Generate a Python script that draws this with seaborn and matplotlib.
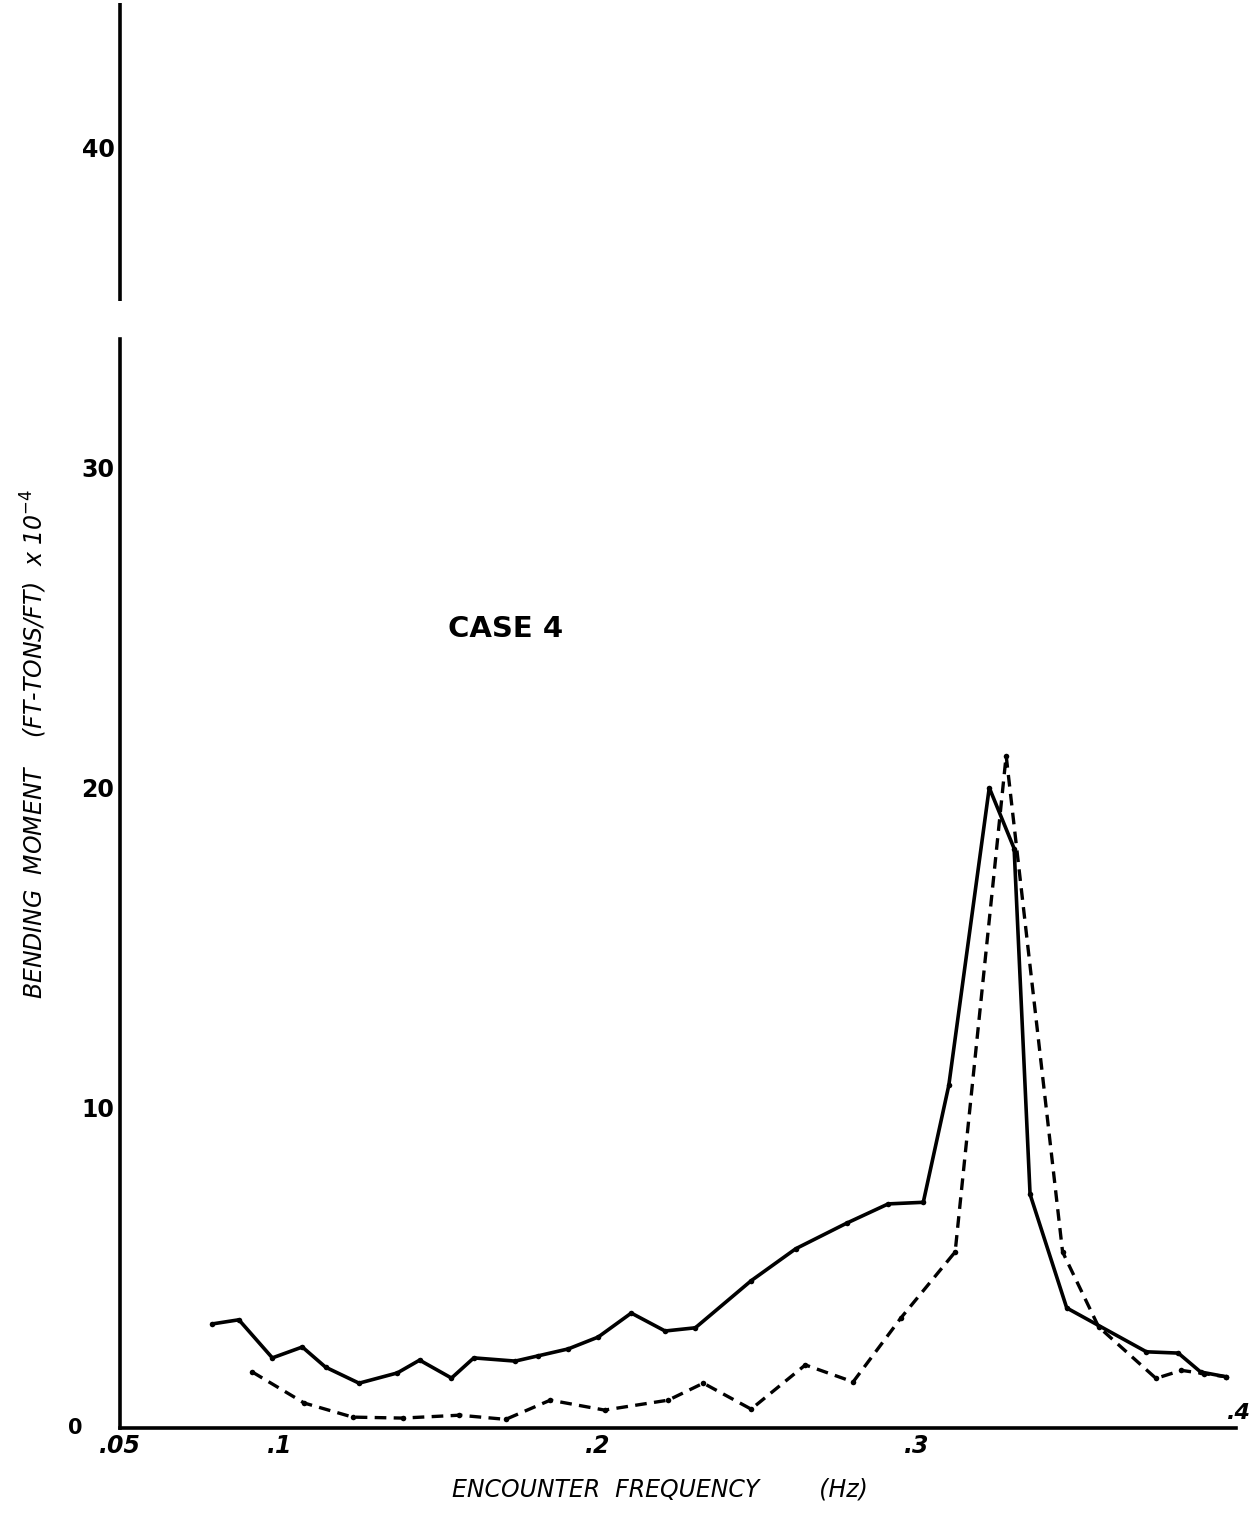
import matplotlib
matplotlib.use("Agg")
import matplotlib.pyplot as plt
import seaborn as sns
import pandas as pd

# hand-read values, encounter frequency (Hz) vs bending moment (ft-tons/ft x 10^-4)
SOLID_FREQ = [0.0789, 0.0873, 0.0978, 0.1072, 0.1145, 0.125, 0.137, 0.144, 0.154,
              0.161, 0.174, 0.181, 0.1906, 0.200, 0.2104, 0.221, 0.2305, 0.248,
              0.262, 0.278, 0.291, 0.302, 0.310, 0.3227, 0.3305, 0.3355, 0.347,
              0.372, 0.382, 0.389, 0.397]
SOLID_MOMENT = [3.25, 3.38, 2.19, 2.53, 1.9, 1.4, 1.72, 2.12, 1.56,
                2.19, 2.09, 2.25, 2.47, 2.84, 3.59, 3.03, 3.13, 4.6,
                5.6, 6.4, 7.0, 7.05, 10.7, 20.0, 18.1, 7.3, 3.75,
                2.38, 2.34, 1.75, 1.6]

DASHED_FREQ = [0.0915, 0.1078, 0.123, 0.1387, 0.1565, 0.171, 0.185, 0.202, 0.222,
               0.233, 0.248, 0.265, 0.280, 0.295, 0.312, 0.328, 0.3457, 0.357,
               0.375, 0.383, 0.390, 0.397]
DASHED_MOMENT = [1.75, 0.78, 0.34, 0.31, 0.4, 0.27, 0.87, 0.56, 0.87,
                 1.4, 0.59, 1.97, 1.44, 3.44, 5.5, 21.0, 5.5, 3.16,
                 1.55, 1.8, 1.7, 1.6]

X_TICKS = [0.05, 0.1, 0.2, 0.3]
X_TICK_LABELS = [".05", ".1", ".2", ".3"]
Y_TICKS = [10, 20, 30, 40]
Y_TICK_LABELS = ["10", "20", "30", "40"]

sns.set_style("white")
plt.rcParams["font.family"] = ["DejaVu Sans"]
plt.rcParams["text.color"] = "black"
plt.rcParams["axes.labelcolor"] = "black"
plt.rcParams["xtick.color"] = "black"
plt.rcParams["ytick.color"] = "black"
plt.rcParams["axes.edgecolor"] = "black"

solid_df = pd.DataFrame({"freq": SOLID_FREQ, "moment": SOLID_MOMENT})
dashed_df = pd.DataFrame({"freq": DASHED_FREQ, "moment": DASHED_MOMENT})

fig = plt.figure(figsize=(12.55, 15.14), dpi=100)
ax = fig.add_axes([0.0956, 0.0568, 0.889, 0.941])

sns.lineplot(data=solid_df, x="freq", y="moment", ax=ax, color="black",
             linewidth=2.6, marker="o", markersize=4, markeredgewidth=0,
             sort=False, estimator=None)
sns.lineplot(data=dashed_df, x="freq", y="moment", ax=ax, color="black",
             linewidth=2.4, linestyle=(0, (3.5, 2.2)), marker="o", markersize=4,
             markeredgewidth=0, sort=False, estimator=None)

ax.set_xlim(0.05, 0.4)
ax.set_ylim(0, 44.5)

# axes drawn like the hand-made original: broken y axis, no frame
for side in ["top", "right"]:
    ax.spines[side].set_visible(False)
ax.spines["left"].set_bounds(0, 34.0)
ax.spines["left"].set_linewidth(2.6)
ax.spines["bottom"].set_linewidth(2.6)
ax.plot([0.05, 0.05], [35.2, 44.5], color="black", linewidth=2.6,
        clip_on=False, solid_capstyle="butt")

ax.set_xticks(X_TICKS)
ax.set_xticklabels(X_TICK_LABELS, fontsize=17, fontweight="bold", style="italic")
ax.set_yticks(Y_TICKS)
ax.set_yticklabels(Y_TICK_LABELS, fontsize=17, fontweight="bold")
ax.tick_params(axis="both", length=0, pad=4)
ax.text(0.3972, 0.15, ".4", fontsize=16, fontweight="bold", style="italic",
        ha="left", va="bottom", clip_on=False)
ax.text(0.036, 0, "0", fontsize=15, fontweight="bold", ha="center", va="center",
        clip_on=False)

ax.set_xlabel("ENCOUNTER  FREQUENCY        (Hz)", fontsize=17, style="italic")
ax.xaxis.set_label_coords(0.484, -0.035)
ax.set_ylabel(r"BENDING  MOMENT    (FT-TONS/FT)  x 10$^{-4}$", fontsize=17,
              style="italic")
ax.yaxis.set_label_coords(-0.064, 0.48)

ax.text(0.153, 24.7, "CASE 4", fontsize=21, fontweight="bold")

fig.savefig("out.png", dpi=100)
